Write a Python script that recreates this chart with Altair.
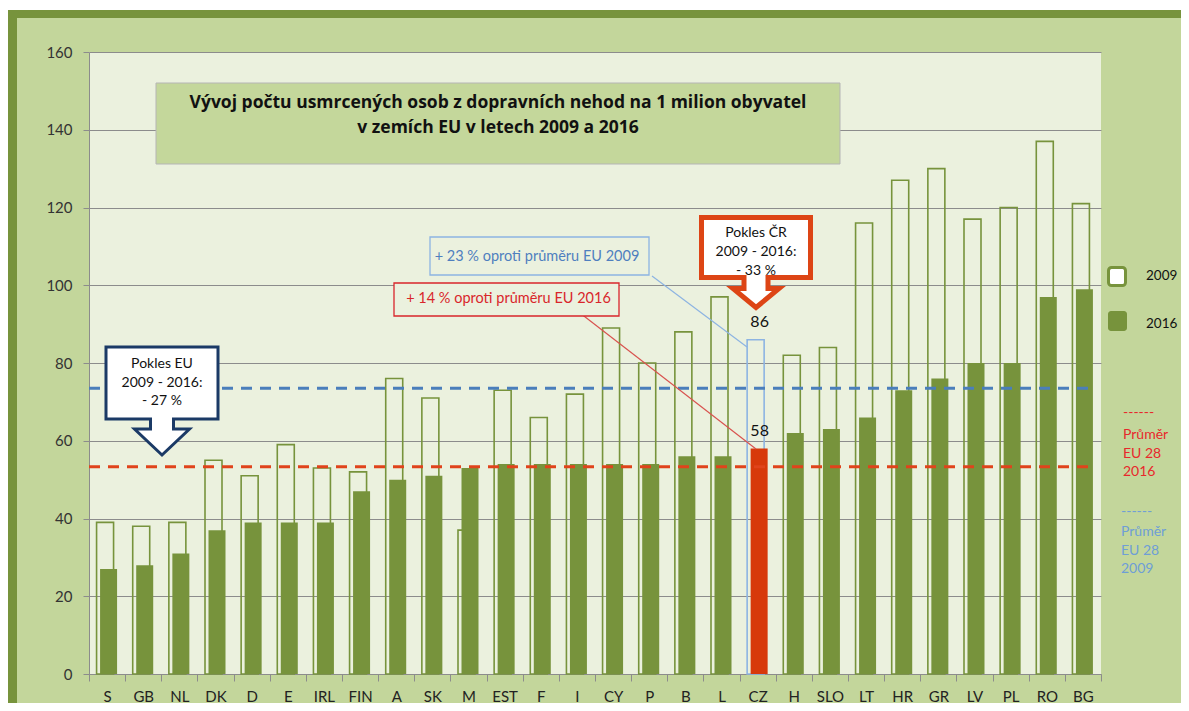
import altair as alt
import pandas as pd

# ---------------- data ----------------
countries = ["S", "GB", "NL", "DK", "D", "E", "IRL", "FIN", "A", "SK", "M", "EST", "F", "I",
             "CY", "P", "B", "L", "CZ", "H", "SLO", "LT", "HR", "GR", "LV", "PL", "RO", "BG"]
values_2009 = [39, 38, 39, 55, 51, 59, 53, 52, 76, 71, 37, 73, 66, 72,
               89, 80, 88, 97, 86, 82, 84, 116, 127, 130, 117, 120, 137, 121]
values_2016 = [27, 28, 31, 37, 39, 39, 39, 47, 50, 51, 53, 54, 54, 54,
               54, 54, 56, 56, 58, 62, 63, 66, 73, 76, 80, 80, 97, 99]
years = ["2009", "2016"]
eu_average = [73.5, 53.3]          # drawn EU-28 average lines (2009, 2016)
highlight = "CZ"
y_ticks = [0, 20, 40, 60, 80, 100, 120, 140, 160]

title_text = "Vývoj počtu usmrcených osob z dopravních nehod na 1 milion obyvatel\nv zemích EU v letech 2009 a 2016"
eu_drop_text = "Pokles EU\n2009 - 2016:\n- 27 %"
cz_drop_text = "Pokles ČR\n2009 - 2016:\n- 33 %"
note_2009 = "+ 23 % oproti průměru EU 2009"
note_2016 = "+ 14 % oproti průměru EU 2016"
avg_legend_2016 = "Průměr\nEU 28\n2016"
avg_legend_2009 = "Průměr\nEU 28\n2009"

# ---------------- style ----------------
W, H = 1012, 622
PAD = {"left": 81, "top": 44, "right": 80, "bottom": 29}
OLIVE = "#77933C"
CZ_RED = "#D7390B"
CZ_BLUE = "#8DB4E2"
BG_OUTER = "#C3D69B"
BG_PLOT = "#EBF1DE"
GRID = "#8C8C8C"
BLUE_LINE = "#4A7EBB"
RED_LINE = "#E0431B"
FONT = "Lato"

df = pd.DataFrame({
    "country": countries * 2,
    "year": [years[0]] * len(countries) + [years[1]] * len(countries),
    "value": values_2009 + values_2016,
})
avg_df = pd.DataFrame({"year": years, "value": eu_average})

X = alt.X("country:N", sort=countries,
          scale=alt.Scale(paddingInner=0, paddingOuter=0),
          axis=alt.Axis(title=None, labelAngle=0, tickBand="extent", tickSize=7,
                        tickColor=GRID, domainColor=GRID, labelPadding=8,
                        labelFontSize=15, labelFont=FONT, labelColor="#222222", grid=False))
Y = alt.Y("value:Q", scale=alt.Scale(domain=[0, 160], nice=False),
          axis=alt.Axis(title=None, values=y_ticks, grid=True, gridColor=GRID, gridWidth=1,
                        domainColor=GRID, tickColor=GRID, tickSize=6, labelPadding=11,
                        labelFontSize=15, labelFont=FONT, labelColor="#333333"))


def one(label=""):
    return alt.Chart(pd.DataFrame({"label": [label]}))


is_hl = f"datum.country == '{highlight}'"

# frame
frame_white = one().mark_rect(fill="white").encode(
    x=alt.value(-81), x2=alt.value(W + 88), y=alt.value(-44), y2=alt.value(-42))
frame_top = one().mark_rect(fill=OLIVE).encode(
    x=alt.value(-81), x2=alt.value(W + 88), y=alt.value(-42), y2=alt.value(-34))
frame_left = one().mark_rect(fill=OLIVE).encode(
    x=alt.value(-81), x2=alt.value(-72), y=alt.value(-42), y2=alt.value(H + 37))

bars09 = alt.Chart(df).transform_filter("datum.year == '2009'").mark_bar(
    width=17, xOffset=-2, fill="transparent", strokeWidth=1.6
).encode(x=X, y=Y, stroke=alt.condition(is_hl, alt.value(CZ_BLUE), alt.value(OLIVE)))

bars16 = alt.Chart(df).transform_filter("datum.year == '2016'").mark_bar(
    width=17, xOffset=1.5
).encode(x=X, y=Y, fill=alt.condition(is_hl, alt.value(CZ_RED), alt.value(OLIVE)))

avg_lines = alt.Chart(avg_df).mark_rule(strokeDash=[11, 8], strokeWidth=3).encode(
    y=Y, x=alt.value(0), x2=alt.value(1001),
    color=alt.Color("year:N", scale=alt.Scale(domain=years, range=[BLUE_LINE, RED_LINE]), legend=None))

value_labels = alt.Chart(df).transform_filter(is_hl).mark_text(
    font=FONT, fontSize=16, color="#111111", dy=-18, dx=2, baseline="middle"
).encode(x=X, y=Y, text="value:Q")

# leader lines
lead_blue = one().mark_rule(stroke=CZ_BLUE, strokeWidth=1.2).encode(
    x=alt.value(563), y=alt.value(224), x2=alt.value(658), y2=alt.value(295))
lead_red = one().mark_rule(stroke="#D9534F", strokeWidth=1.2).encode(
    x=alt.value(491), y=alt.value(261), x2=alt.value(667), y2=alt.value(397))

# note boxes
box_blue = one().mark_rect(fill=BG_PLOT, stroke=CZ_BLUE, strokeWidth=1.3).encode(
    x=alt.value(341), x2=alt.value(560), y=alt.value(185), y2=alt.value(223))
txt_blue = one(note_2009).mark_text(font=FONT, fontSize=14.5, color="#4F7FBF").encode(
    x=alt.value(448), y=alt.value(204.5), text="label:N")
box_red = one().mark_rect(fill=BG_PLOT, stroke="#D9262B", strokeWidth=1.3).encode(
    x=alt.value(305), x2=alt.value(530), y=alt.value(231), y2=alt.value(264))
txt_red = one(note_2016).mark_text(font=FONT, fontSize=14.5, color="#D9262B").encode(
    x=alt.value(419.5), y=alt.value(246.5), text="label:N")

# callouts
eu_path = "M-56,-36 L56,-36 L56,36 L11.5,36 L11.5,46 L27.5,46 L0,72 L-27.5,46 L-11.5,46 L-11.5,36 L-56,36 Z"
cz_path = "M-54.5,-30 L54.5,-30 L54.5,30 L12,30 L12,41 L23,41 L0,60 L-23,41 L-12,41 L-12,30 L-54.5,30 Z"
eu_call = one().mark_point(shape=eu_path, size=4, filled=True, fill="white", stroke="#1B3A66",
                           strokeWidth=3, opacity=1, strokeJoin="miter").encode(
    x=alt.value(73), y=alt.value(331))
eu_call_txt = one(eu_drop_text).mark_text(font=FONT, fontSize=14, color="#111111",
                                          lineBreak="\n", lineHeight=18.5).encode(
    x=alt.value(73), y=alt.value(312), text="label:N")
cz_call = one().mark_point(shape=cz_path, size=4, filled=True, fill="white", stroke="#DD4515",
                           strokeWidth=5, opacity=1, strokeJoin="miter").encode(
    x=alt.value(667), y=alt.value(195.5))
cz_call_txt = one(cz_drop_text).mark_text(font=FONT, fontSize=14, color="#111111",
                                          lineBreak="\n", lineHeight=19).encode(
    x=alt.value(667), y=alt.value(180.5), text="label:N")

# title box
title_box = one().mark_rect(fill="#C4D79B", stroke="#B5B5B5", strokeWidth=1).encode(
    x=alt.value(67), x2=alt.value(751), y=alt.value(31), y2=alt.value(112))
title_txt = one(title_text).mark_text(font="Open Sans", fontSize=17.5, fontWeight="bold",
                                      color="#111111", lineBreak="\n", lineHeight=25).encode(
    x=alt.value(409), y=alt.value(51), text="label:N")

# legend
leg09 = one().mark_rect(fill="white", stroke=OLIVE, strokeWidth=3, cornerRadius=3).encode(
    x=alt.value(1019.5), x2=alt.value(1036.5), y=alt.value(215.5), y2=alt.value(233.5))
leg16 = one().mark_rect(fill=OLIVE, cornerRadius=3).encode(
    x=alt.value(1019), x2=alt.value(1038), y=alt.value(259), y2=alt.value(279))
leg09_txt = one(years[0]).mark_text(font=FONT, fontSize=13.5, color="#111111", align="left").encode(
    x=alt.value(1057), y=alt.value(224), text="label:N")
leg16_txt = one(years[1]).mark_text(font=FONT, fontSize=13.5, color="#111111", align="left").encode(
    x=alt.value(1057), y=alt.value(272), text="label:N")

avg16_dash = one("------").mark_text(font=FONT, fontSize=14, color="#E8282B", align="left").encode(
    x=alt.value(1034), y=alt.value(361), text="label:N")
avg16_txt = one(avg_legend_2016).mark_text(font=FONT, fontSize=14, color="#E8282B", align="left",
                                           lineBreak="\n", lineHeight=18.5).encode(
    x=alt.value(1034), y=alt.value(383), text="label:N")
avg09_dash = one("------").mark_text(font=FONT, fontSize=14, color="#6E9ED6", align="left").encode(
    x=alt.value(1032), y=alt.value(460), text="label:N")
avg09_txt = one(avg_legend_2009).mark_text(font=FONT, fontSize=14, color="#6E9ED6", align="left",
                                           lineBreak="\n", lineHeight=18.5).encode(
    x=alt.value(1032), y=alt.value(480), text="label:N")

chart = alt.layer(
    frame_white, frame_top, frame_left,
    bars09, bars16, avg_lines,
    lead_blue, lead_red, box_blue, txt_blue, box_red, txt_red,
    eu_call, eu_call_txt, cz_call, cz_call_txt,
    title_box, title_txt,
    leg09, leg16, leg09_txt, leg16_txt,
    avg16_dash, avg16_txt, avg09_dash, avg09_txt,
    value_labels,
).resolve_scale(color="independent").properties(
    width=W, height=H,
    autosize=alt.AutoSizeParams(type="none"),
    padding=PAD,
).configure(background=BG_OUTER, font=FONT).configure_view(fill=BG_PLOT, strokeWidth=0)

chart.save("out.html", embed_options={"renderer": "svg", "actions": False})
